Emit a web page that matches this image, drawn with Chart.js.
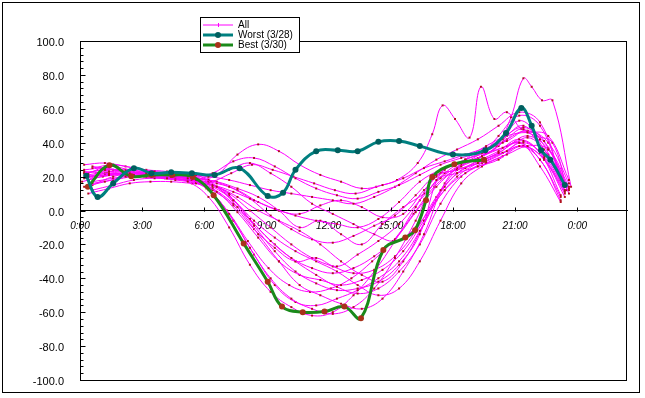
<!DOCTYPE html>
<html><head><meta charset="utf-8">
<script src="https://cdn.jsdelivr.net/npm/chart.js@4.4.1/dist/chart.umd.min.js"></script>
<style>html,body{margin:0;padding:0;background:#fff;}canvas{display:block;}</style>
</head><body>
<canvas id="c" width="645" height="398"></canvas>
<script>
// ---- tick labels ----
const xTickHours = [0, 3, 6, 9, 12, 15, 18, 21, 24];
const xTickLabels = ['0:00', '3:00', '6:00', '9:00', '12:00', '15:00', '18:00', '21:00', '0:00'];

// ---- sample times (hours) ----
const hoursA = [0.2,1.2,2.2,3.2,4.2,5.2,6.2,7.2,8.2,9.2,10.2,11.2,12.2,13.2,14.2,15.2,16.2,17.2,18.2,19.2,20.2,21.2,22.2,23.2];
const hoursB = [0.4,1.4,2.4,3.4,4.4,5.4,6.4,7.4,8.4,9.4,10.4,11.4,12.4,13.4,14.4,15.4,16.4,17.4,18.4,19.4,20.4,21.4,22.4,23.4];
const hoursC = [0.6,1.6,2.6,3.6,4.6,5.6,6.6,7.6,8.6,9.6,10.6,11.6,12.6,13.6,14.6,15.6,16.6,17.6,18.6,19.6,20.6,21.6,22.6,23.6];

// ---- "All" days ----
const all01 = [22,24,23,22,21,19,12,-2,-22,-40,-52,-58,-61,-57,-46,-28,-6,18,22,26,30,38,30,6];
const all02 = [18,21,22,21,20,18,10,-6,-26,-44,-54,-56,-52,-47,-40,-30,-12,12,26,34,42,50,36,12];
const all03 = [25,27,25,23,22,21,14,2,-14,-30,-44,-50,-55,-58,-52,-36,-14,16,30,38,44,46,44,18];
const all04 = [14,17,20,20,19,17,8,-10,-32,-48,-57,-62,-60,-50,-36,-18,2,20,24,28,34,40,26,5];
const all05 = [22,26,24,22,21,19,15,6,-9,-24,-36,-43,-47,-46,-42,-32,-14,22,28,32,40,48,34,14];
const all06 = [12,15,18,19,18,16,11,-1,-16,-30,-38,-41,-44,-41,-35,-24,-6,12,22,28,33,38,36,14];
const all07 = [27,28,26,24,23,21,17,9,-5,-18,-28,-34,-37,-34,-27,-17,-1,14,25,31,38,53,42,18];
const all08 = [20,21,22,21,20,18,12,3,-11,-22,-30,-28,-33,-26,-18,-8,6,19,27,32,37,41,31,11];
const all09 = [17,19,21,20,19,17,14,8,0,-6,-12,-20,-30,-38,-42,-30,-8,14,25,29,35,43,33,13];
const all10 = [24,25,23,22,21,20,18,14,7,-3,-11,-17,-19,-15,-9,-3,9,21,24,30,44,56,50,20];
const all11 = [20,22,23,22,21,20,22,29,31,26,19,13,9,7,11,15,21,27,31,35,43,49,41,14];
const all12 = [16,18,20,20,19,18,21,33,39,35,27,21,17,13,15,19,25,29,33,37,41,47,37,10];
const all13 = [22,24,24,23,22,21,20,18,15,12,10,8,6,4,8,14,22,30,36,42,50,58,52,20];
const all14 = [10,13,16,17,17,16,15,11,6,1,-3,-6,-8,-10,-5,5,17,24,28,30,34,38,30,8];
const all15 = [26,24,22,21,20,19,17,13,8,0,-10,-6,-14,-20,-8,2,10,22,30,35,42,47,40,16];
const all16 = [19,21,22,21,20,19,16,10,0,-10,-20,-28,-33,-37,-35,-27,-12,8,22,29,35,42,34,9];
const all17 = [21,23,22,21,20,18,13,4,-8,-20,-30,-38,-45,-49,-46,-36,-20,4,20,28,34,40,32,12];
const all18 = [15,20,22,21,20,18,16,12,5,0,-2,3,6,2,-4,-2,12,24,30,34,38,44,36,12];
const all19 = [23,22,21,20,19,18,20,24,28,22,14,4,-2,-8,-14,-18,-10,6,20,28,34,40,30,8];
const all20 = [18,24,22,21,20,18,14,6,-6,-16,-24,-30,-36,-44,-50,-46,-30,-6,16,26,32,38,30,10];
const spikyHours = [0.3,1.3,2.3,3.3,4.3,5.3,6.3,7.3,8.3,9.3,10.3,11.3,12.3,13.3,14.3,15.3,16.3,17.0,17.5,18.1,18.8,19.35,20.0,20.6,21.3,22.0,22.8,23.5];
const spikyDay  = [20,22,21,20,19,18,17,22,27,24,20,16,12,10,14,18,28,45,62,54,43,73,54,58,48,44,40,12];
const highHours = [0.1,1.1,2.1,3.1,4.1,5.1,6.1,7.1,8.1,9.1,10.1,11.1,12.1,13.1,14.1,15.1,16.1,17.1,18.1,19.1,20.1,20.8,21.4,21.8,22.3,22.8,23.7];
const highDay   = [17,20,21,20,19,18,13,0,-18,-34,-44,-48,-46,-40,-30,-18,-2,14,24,30,38,55,78,73,65,65,14];

// ---- Worst (3/28) ----
const worstHours = [0.3,0.85,1.6,2.6,3.45,4.4,5.4,6.5,7.7,9.06,9.8,10.4,11.4,12.44,13.4,14.4,15.4,16.4,18.0,19.56,20.56,21.3,21.8,22.25,22.7,23.4];
const worstVals  = [20.5,8,16,25,22,22.5,22,21,25,8.5,10.5,24,35,35.5,35,40.5,41,38,33,35.5,45.7,60.5,50,35.5,30,15];

// ---- Best (3/30) ----
const bestHours = [0.38,1.42,2.47,3.45,4.45,5.44,6.45,7.9,9.06,9.75,10.75,11.8,12.76,13.56,14.64,15.7,16.17,16.7,17.0,18.07,19.5];
const bestVals  = [14,26.7,20.2,21,21,19.8,9,-19.4,-42,-56.7,-60,-59.6,-56.7,-63.5,-23.3,-16,-11.6,6,19.8,27.3,30];

const allGroups = [
  [hoursA, all01],[hoursB, all02],[hoursC, all03],[hoursA, all04],[hoursB, all05],
  [hoursC, all06],[hoursA, all07],[hoursB, all08],[hoursC, all09],[hoursA, all10],
  [hoursB, all11],[hoursC, all12],[hoursA, all13],[hoursB, all14],[hoursC, all15],
  [hoursA, all16],[hoursB, all17],[hoursC, all18],[hoursA, all19],[hoursB, all20],
  [spikyHours, spikyDay],[highHours, highDay]
];

const toXY = (hs, vs) => hs.map((h, i) => ({x: h, y: vs[i]}));

const datasets = [];
datasets.push({
  label: 'Worst (3/28)', data: toXY(worstHours, worstVals), order: 0,
  borderColor: '#008080', borderWidth: 3, tension: 0.4,
  pointRadius: 3, pointBackgroundColor: '#005f5f', pointBorderColor: '#005f5f', pointBorderWidth: 0
});
datasets.push({
  label: 'Best (3/30)', data: toXY(bestHours, bestVals), order: 1,
  borderColor: '#1a8a1a', borderWidth: 3, tension: 0.4,
  pointRadius: 3, pointBackgroundColor: '#a8321a', pointBorderColor: '#a8321a', pointBorderWidth: 0
});
allGroups.forEach((g) => {
  datasets.push({
    label: 'All', data: toXY(g[0], g[1]), order: 2,
    borderColor: '#ff00ff', borderWidth: 1, tension: 0.4,
    pointStyle: 'rect', pointRadius: 1.4, pointBackgroundColor: '#b0101e', pointBorderWidth: 0
  });
});

const decor = {
  id: 'decor',
  afterDraw(chart) {
    const {ctx, chartArea: a, scales: {x, y}} = chart;
    ctx.save();
    ctx.strokeStyle = '#000';
    ctx.lineWidth = 1;
    const l = Math.round(a.left) + 0.5, t = Math.round(a.top) + 0.5;
    const r = Math.round(a.right) - 0.5, b = Math.round(a.bottom) + 0.5;
    ctx.strokeRect(l, t, r - l, b - t);
    ctx.beginPath();
    for (let v = -100; v <= 100; v += 4) {
      const py = Math.round(y.getPixelForValue(v)) + 0.5;
      const len = (v % 20 === 0) ? 5 : 3;
      ctx.moveTo(l, py); ctx.lineTo(l + len, py);
    }
    const p0 = Math.round(y.getPixelForValue(0)) + 0.5;
    xTickHours.forEach(h => {
      const px = Math.round(x.getPixelForValue(h)) + 0.5;
      ctx.moveTo(px, p0); ctx.lineTo(px, p0 - 4);
    });
    ctx.stroke();
    ctx.strokeRect(2.5, 2.5, 637, 390);
    // legend
    ctx.fillStyle = '#fff';
    ctx.fillRect(200, 17, 99, 35);
    ctx.strokeRect(200.5, 17.5, 99, 35);
    const items = [
      [chart.data.datasets[2], 25],
      [chart.data.datasets[0], 35],
      [chart.data.datasets[1], 45]
    ];
    items.forEach(([ds, yy]) => {
      ctx.strokeStyle = ds.borderColor;
      ctx.lineWidth = ds.borderWidth;
      ctx.beginPath(); ctx.moveTo(203, yy); ctx.lineTo(233, yy); ctx.stroke();
      if (ds.label === 'All') {
        ctx.lineWidth = 1;
        ctx.beginPath(); ctx.moveTo(218.5, yy - 2); ctx.lineTo(218.5, yy + 2); ctx.stroke();
      } else {
        ctx.fillStyle = ds.pointBackgroundColor;
        ctx.beginPath(); ctx.arc(218, yy, 3, 0, Math.PI * 2); ctx.fill();
      }
      ctx.fillStyle = '#000';
      ctx.font = '10px "Liberation Sans", Arial, sans-serif';
      ctx.textBaseline = 'middle';
      ctx.textAlign = 'left';
      ctx.fillText(ds.label, 238, yy + 0.5);
    });
    ctx.restore();
  }
};

new Chart(document.getElementById('c'), {
  type: 'line',
  data: { datasets },
  options: {
    responsive: false,
    animation: false,
    devicePixelRatio: 1,
    layout: { padding: { top: 41, right: 18, bottom: 18, left: 0 } },
    plugins: { legend: { display: false }, tooltip: { enabled: false } },
    scales: {
      x: {
        type: 'linear', min: 0, max: 26.4,
        position: { y: 0 },
        grid: { display: false, drawTicks: false },
        border: { display: true, color: '#000', width: 1 },
        afterBuildTicks(scale) { scale.ticks = xTickHours.map(v => ({ value: v })); },
        ticks: {
          autoSkip: false, maxRotation: 0, padding: 10, color: '#000',
          font: { family: '"Liberation Sans", Arial, sans-serif', size: 10, style: 'italic' },
          callback: (v) => { const i = xTickHours.indexOf(v); return i >= 0 ? xTickLabels[i] : ''; }
        }
      },
      y: {
        type: 'linear', min: -100, max: 100,
        position: 'left',
        afterFit(scale) { scale.width = 80; scale.paddingTop = 0; scale.paddingBottom = 0; },
        grid: { display: false, drawTicks: false },
        border: { display: true, color: '#000', width: 1 },
        ticks: {
          stepSize: 20, padding: 16, color: '#000', labelOffset: 2,
          font: { family: '"Liberation Sans", Arial, sans-serif', size: 11 },
          callback: (v) => Number(v).toFixed(1)
        }
      }
    }
  },
  plugins: [decor]
});
</script>
</body></html>
